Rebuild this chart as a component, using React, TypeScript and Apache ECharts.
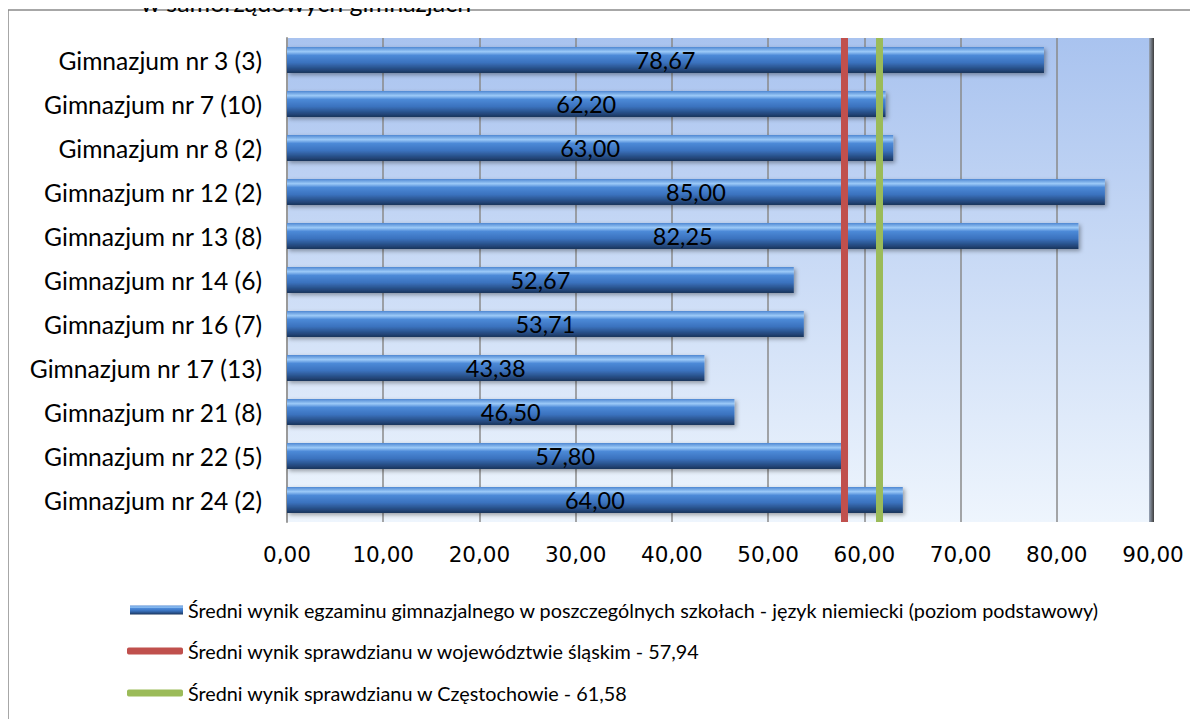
import React, { useEffect, useRef } from "react";
import * as echarts from "echarts";

const categories = [
  "Gimnazjum nr 3 (3)",
  "Gimnazjum nr 7 (10)",
  "Gimnazjum nr 8 (2)",
  "Gimnazjum nr 12 (2)",
  "Gimnazjum nr 13 (8)",
  "Gimnazjum nr 14 (6)",
  "Gimnazjum nr 16 (7)",
  "Gimnazjum nr 17 (13)",
  "Gimnazjum nr 21 (8)",
  "Gimnazjum nr 22 (5)",
  "Gimnazjum nr 24 (2)",
];
const schoolValues = [78.67, 62.2, 63.0, 85.0, 82.25, 52.67, 53.71, 43.38, 46.5, 57.8, 64.0];
const provinceAvg = 57.94;
const cityAvg = 61.58;
const seriesNames = [
  "Średni wynik egzaminu gimnazjalnego w poszczególnych szkołach - język niemiecki (poziom podstawowy)",
  "Średni wynik sprawdzianu w województwie śląskim - 57,94",
  "Średni wynik sprawdzianu w Częstochowie - 61,58",
];
const titleText = "w samorządowych gimnazjach";
const xMin = 0;
const xMax = 90;
const xInterval = 10;

const fmt = (v: number) => v.toFixed(2).replace(".", ",");
const LABEL_FONT = "Lato";
const AXIS_FONT = "DejaVu Sans";

export default function App() {
  const ref = useRef<HTMLDivElement>(null);
  useEffect(() => {
    if (!ref.current) return;
    const chart = echarts.init(ref.current, undefined, { renderer: "svg" });
    const barGradient = {
      type: "linear",
      x: 0,
      y: 0,
      x2: 0,
      y2: 1,
      colorStops: [
        { offset: 0, color: "#4f87d2" },
        { offset: 0.18, color: "#9ccaf8" },
        { offset: 0.32, color: "#4d8ad8" },
        { offset: 0.6, color: "#3a72be" },
        { offset: 0.85, color: "#264c82" },
        { offset: 1, color: "#1b355c" },
      ],
    };
    const gridLeft = 279;
    const gridTop = 38;
    const gridWidth = 866;
    const gridHeight = 484;
    const legendText = { fontFamily: LABEL_FONT, fontSize: 19.8, color: "#000" };
    const option: any = {
      animation: false,
      grid: {
        left: gridLeft,
        top: gridTop,
        width: gridWidth,
        height: gridHeight,
        show: true,
        borderWidth: 0,
        backgroundColor: {
          type: "linear",
          x: 0,
          y: 0,
          x2: 0,
          y2: 1,
          colorStops: [
            { offset: 0, color: "#a9c3ef" },
            { offset: 1, color: "#eef5fd" },
          ],
        },
      },
      xAxis: {
        type: "value",
        min: xMin,
        max: xMax,
        interval: xInterval,
        axisLine: { show: false },
        axisTick: { show: false },
        axisLabel: {
          formatter: (v: number) => fmt(v),
          fontFamily: AXIS_FONT,
          fontSize: 21.5,
          color: "#000",
          margin: 21,
        },
        splitLine: { show: true, lineStyle: { color: "#8a8a8a", width: 1.5 } },
      },
      yAxis: {
        type: "category",
        data: categories,
        inverse: true,
        axisLine: { show: true, lineStyle: { color: "#9a9a9a", width: 2 } },
        axisTick: { show: false },
        axisLabel: {
          fontFamily: LABEL_FONT,
          fontSize: 24.6,
          color: "#000",
          margin: 25,
        },
      },
      legend: [
        {
          data: [{ name: seriesNames[0], icon: "rect" }],
          left: 122,
          top: 600,
          padding: 0,
          itemWidth: 53,
          itemHeight: 9,
          textStyle: legendText,
        },
        {
          data: [{ name: seriesNames[1], icon: "roundRect", itemStyle: { color: "#c0504d" } }],
          left: 119,
          top: 641,
          padding: 0,
          itemWidth: 56,
          itemHeight: 7,
          textStyle: legendText,
        },
        {
          data: [{ name: seriesNames[2], icon: "roundRect", itemStyle: { color: "#9bbb59" } }],
          left: 119,
          top: 683,
          padding: 0,
          itemWidth: 56,
          itemHeight: 7,
          textStyle: legendText,
        },
      ],
      series: [
        {
          name: seriesNames[0],
          type: "bar",
          data: schoolValues,
          barWidth: 26,
          itemStyle: {
            color: barGradient,
            shadowBlur: 4,
            shadowColor: "rgba(0,0,0,0.35)",
            shadowOffsetX: 2,
            shadowOffsetY: 2,
          },
          label: {
            show: true,
            position: "inside",
            formatter: (p: any) => fmt(p.value),
            fontFamily: LABEL_FONT,
            fontSize: 23.5,
            color: "#000",
          },
          z: 2,
        },
        {
          name: seriesNames[1],
          type: "line",
          data: [],
          itemStyle: { color: "#c0504d" },
          markLine: {
            silent: true,
            symbol: "none",
            label: { show: false },
            lineStyle: { color: "#c0504d", width: 7, type: "solid" },
            data: [{ xAxis: provinceAvg }],
          },
          z: 5,
        },
        {
          name: seriesNames[2],
          type: "line",
          data: [],
          itemStyle: { color: "#9bbb59" },
          markLine: {
            silent: true,
            symbol: "none",
            label: { show: false },
            lineStyle: { color: "#9bbb59", width: 7, type: "solid" },
            data: [{ xAxis: cityAvg }],
          },
          z: 5,
        },
      ],
      graphic: [
        {
          type: "rect",
          shape: { x: 0, y: 10, width: 1300, height: 800 },
          style: { fill: "none", stroke: "#8a8a8a", lineWidth: 1.5 },
          silent: true,
        },
        {
          type: "text",
          x: 298,
          y: 14,
          style: {
            text: titleText,
            fontFamily: LABEL_FONT,
            fontSize: 25,
            fill: "#000",
            align: "center",
            verticalAlign: "bottom",
          },
          silent: true,
        },
        {
          type: "rect",
          shape: { x: gridLeft + 2, y: gridTop, width: gridWidth - 2, height: 8 },
          style: {
            fill: {
              type: "linear",
              x: 0,
              y: 0,
              x2: 0,
              y2: 1,
              colorStops: [
                { offset: 0, color: "#c6dcf6" },
                { offset: 1, color: "#d8e9fb" },
              ],
            },
          },
          z: -1,
          silent: true,
        },
        {
          type: "rect",
          shape: { x: gridLeft + gridWidth - 4, y: gridTop, width: 5, height: gridHeight },
          style: {
            fill: {
              type: "linear",
              x: 0,
              y: 0,
              x2: 1,
              y2: 0,
              colorStops: [
                { offset: 0, color: "#9aa6b8" },
                { offset: 1, color: "#3d3d3d" },
              ],
            },
          },
          z: 10,
          silent: true,
        },
      ],
    };
    chart.setOption(option);
    return () => chart.dispose();
  }, []);
  return <div ref={ref} style={{ width: 1190, height: 719, marginTop: -8 }} />;
}
